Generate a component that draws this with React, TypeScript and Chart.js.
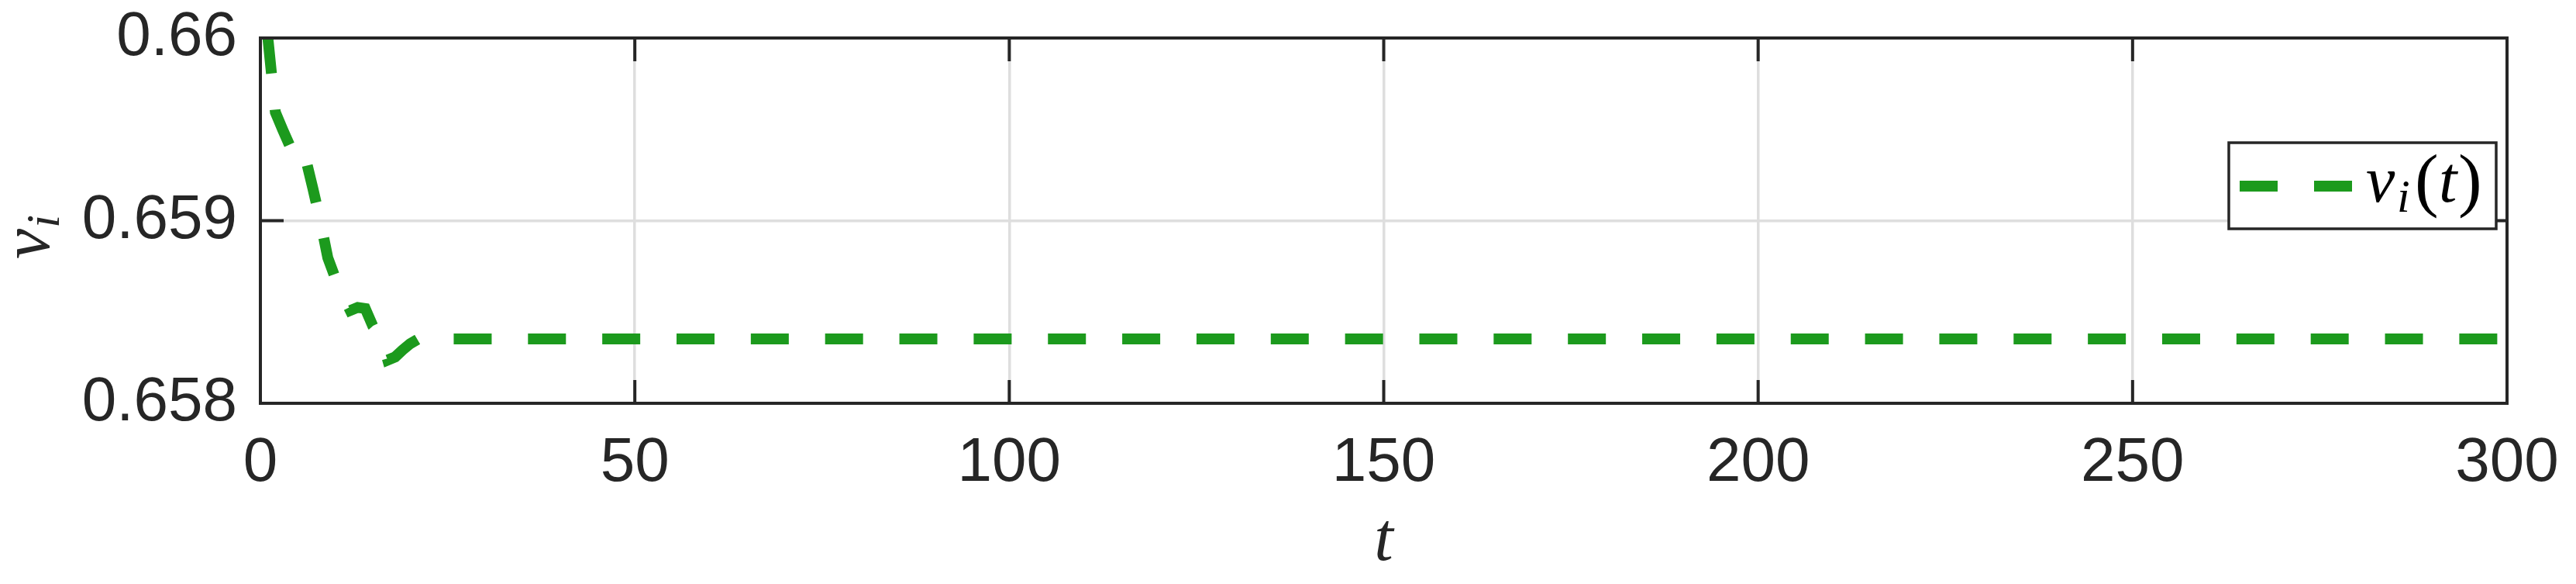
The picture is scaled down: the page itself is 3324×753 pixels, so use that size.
import React, { useEffect, useRef } from "react";
import { Chart, registerables } from "chart.js";

Chart.register(...registerables);

// ---- data ----
const tValues = [1, 2, 3, 4, 5, 6, 7, 8, 9, 10, 11, 12, 13, 14, 15, 16, 17, 18, 19, 20, 21, 22, 300];
const vValues = [
  0.66, 0.659593, 0.659496, 0.659403, 0.659428, 0.659347, 0.659178, 0.659,
  0.658797, 0.658686, 0.658593, 0.658508, 0.658525, 0.658519, 0.658424,
  0.658377, 0.658237, 0.658254, 0.658292, 0.658326, 0.65835, 0.658352, 0.658352,
];
const xTicks = [0, 50, 100, 150, 200, 250, 300];
const xTickLabels = ["0", "50", "100", "150", "200", "250", "300"];
const yTicks = [0.658, 0.659, 0.66];
const yTickLabels = ["0.658", "0.659", "0.66"];
const seriesName = "v";
const seriesSub = "i";
const xTitle = "t";
const yTitle = "v";
const yTitleSub = "i";

const GREEN = "#1c9a1d";
const AXIS = "#262626";
const GRID = "#dedede";
const SERIF = "'Liberation Serif', 'DejaVu Serif', serif";
const SANS = "'Liberation Sans', Arial, sans-serif";

const framePlugin = {
  id: "framePlugin",
  afterDatasetsDraw(chart: any) {
    const { ctx, chartArea } = chart;
    const { left, right, top, bottom } = chartArea;
    const xs = chart.scales.x;
    const ys = chart.scales.y;
    ctx.save();
    // box
    ctx.strokeStyle = AXIS;
    ctx.lineWidth = 4;
    ctx.setLineDash([]);
    ctx.strokeRect(left, top, right - left, bottom - top);
    // inward ticks on all sides
    const tl = 30;
    ctx.beginPath();
    xTicks.forEach((v) => {
      const x = xs.getPixelForValue(v);
      ctx.moveTo(x, bottom);
      ctx.lineTo(x, bottom - tl);
      ctx.moveTo(x, top);
      ctx.lineTo(x, top + tl);
    });
    yTicks.forEach((v) => {
      const y = ys.getPixelForValue(v);
      ctx.moveTo(left, y);
      ctx.lineTo(left + tl, y);
      ctx.moveTo(right, y);
      ctx.lineTo(right - tl, y);
    });
    ctx.stroke();

    // legend
    const lx = 2876, ly = 184, lw = 345, lh = 111;
    ctx.fillStyle = "#ffffff";
    ctx.fillRect(lx, ly, lw, lh);
    ctx.lineWidth = 3.5;
    ctx.strokeStyle = AXIS;
    ctx.strokeRect(lx, ly, lw, lh);
    ctx.beginPath();
    ctx.strokeStyle = GREEN;
    ctx.lineWidth = 14;
    ctx.lineCap = "butt";
    ctx.setLineDash([49, 47]);
    ctx.moveTo(2890, 240);
    ctx.lineTo(3035, 240);
    ctx.stroke();
    ctx.setLineDash([]);
    ctx.fillStyle = "#000000";
    ctx.textBaseline = "alphabetic";
    ctx.textAlign = "left";
    ctx.font = `italic 84px ${SERIF}`;
    ctx.fillText(seriesName, 3053, 260);
    ctx.font = `italic 60px ${SERIF}`;
    ctx.fillText(seriesSub, 3093, 273);
    ctx.font = `92px ${SERIF}`;
    ctx.fillText("(", 3116, 262);
    ctx.font = `italic 84px ${SERIF}`;
    ctx.fillText(xTitle, 3147, 260);
    ctx.font = `92px ${SERIF}`;
    ctx.fillText(")", 3172, 262);

    // x title
    ctx.fillStyle = AXIS;
    ctx.font = `italic 88px ${SERIF}`;
    ctx.textAlign = "center";
    ctx.fillText(xTitle, (left + right) / 2, 722);

    // y title (rotated)
    ctx.translate(63, 0);
    ctx.rotate(-Math.PI / 2);
    ctx.textAlign = "left";
    ctx.font = `italic 88px ${SERIF}`;
    const vw = ctx.measureText(yTitle).width;
    const startX = -334;
    ctx.fillText(yTitle, startX, 0);
    ctx.font = `italic 62px ${SERIF}`;
    ctx.fillText(yTitleSub, startX + vw + 1, 13);
    ctx.restore();
  },
};

export default function App() {
  const ref = useRef<HTMLCanvasElement | null>(null);
  useEffect(() => {
    if (!ref.current) return;
    const chart = new Chart(ref.current, {
      type: "line",
      data: {
        datasets: [
          {
            label: "v_i(t)",
            data: tValues.map((t, i) => ({ x: t, y: vValues[i] })),
            borderColor: GREEN,
            backgroundColor: GREEN,
            borderWidth: 14,
            borderDash: [49, 46.85],
            borderDashOffset: 3,
            borderCapStyle: "butt",
            borderJoinStyle: "miter",
            pointRadius: 0,
            tension: 0,
            fill: false,
            clip: 0,
          } as any,
        ],
      },
      options: {
        responsive: false,
        animation: false,
        devicePixelRatio: 1,
        layout: { padding: { top: 49, right: 89, left: 0, bottom: 0 } },
        plugins: { legend: { display: false }, tooltip: { enabled: false } },
        scales: {
          x: {
            type: "linear",
            min: 0,
            max: 300,
            afterBuildTicks: (s: any) => {
              s.ticks = xTicks.map((v) => ({ value: v }));
            },
            afterFit: (s: any) => {
              s.height = 233;
              s.paddingLeft = 0;
              s.paddingRight = 0;
              s.paddingTop = 0;
              s.paddingBottom = 0;
            },
            grid: { color: GRID, lineWidth: 3.5, drawTicks: false },
            border: { display: false },
            ticks: {
              autoSkip: false,
              maxRotation: 0,
              padding: 30,
              color: AXIS,
              font: { family: SANS, size: 80 },
              callback: (_v: any, i: number) => xTickLabels[i],
            },
          },
          y: {
            type: "linear",
            min: 0.658,
            max: 0.66,
            afterBuildTicks: (s: any) => {
              s.ticks = yTicks.map((v) => ({ value: v }));
            },
            afterFit: (s: any) => {
              s.width = 336;
              s.paddingLeft = 0;
              s.paddingRight = 0;
              s.paddingTop = 0;
              s.paddingBottom = 0;
            },
            grid: { color: GRID, lineWidth: 3.5, drawTicks: false },
            border: { display: false },
            ticks: {
              autoSkip: false,
              padding: 30,
              color: AXIS,
              font: { family: SANS, size: 80 },
              callback: (_v: any, i: number) => yTickLabels[i],
            },
          },
        },
      } as any,
      plugins: [framePlugin],
    });
    return () => chart.destroy();
  }, []);
  return (
    <div style={{ position: "absolute", left: 0, top: 0, width: 3324, height: 753, background: "#fff" }}>
      <canvas ref={ref} width={3324} height={753} style={{ display: "block" }} />
    </div>
  );
}
